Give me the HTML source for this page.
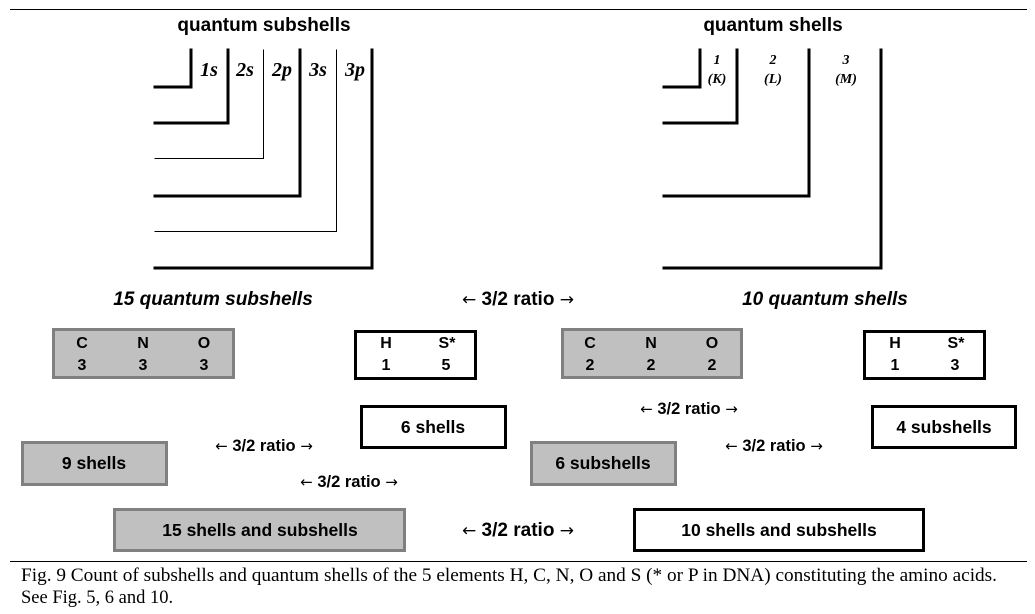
<!DOCTYPE html>
<html><head><meta charset="utf-8"><style>
html,body{margin:0;padding:0;background:#fff;}
svg{display:block;}
.b{font-family:"Liberation Sans",sans-serif;font-weight:bold;}
.s{font-family:"Liberation Serif",serif;}
.a{font-family:"DejaVu Sans",sans-serif;font-weight:normal;}
</style></head><body>
<svg width="1035" height="614" viewBox="0 0 1035 614" xmlns="http://www.w3.org/2000/svg">
<line x1="10" y1="9.5" x2="1027" y2="9.5" stroke="#000" stroke-width="1"/>
<line x1="10" y1="561.5" x2="1027" y2="561.5" stroke="#000" stroke-width="1"/>
<g class="b" font-size="19" text-anchor="middle">
<text x="264" y="31">quantum subshells</text>
<text x="773" y="31">quantum shells</text>
</g>
<g fill="none" stroke="#000" stroke-linecap="square">
<polyline points="155,87 191,87 191,50" stroke-width="3"/>
<polyline points="155,123 228,123 228,50" stroke-width="3"/>
<polyline points="155,158.5 263.5,158.5 263.5,50" stroke-width="1"/>
<polyline points="155,196 300,196 300,50" stroke-width="3"/>
<polyline points="155,231.5 336.5,231.5 336.5,50" stroke-width="1"/>
<polyline points="155,268 372,268 372,50" stroke-width="3"/>
<polyline points="664,87 700,87 700,50" stroke-width="3"/>
<polyline points="664,123 737,123 737,50" stroke-width="3"/>
<polyline points="664,196 809,196 809,50" stroke-width="3"/>
<polyline points="664,268 881,268 881,50" stroke-width="3"/>
</g>
<g class="s" font-weight="bold" font-style="italic" font-size="20" text-anchor="middle">
<text x="209" y="76">1s</text><text x="245" y="76">2s</text><text x="282" y="76">2p</text><text x="318" y="76">3s</text><text x="355" y="76">3p</text>
</g>
<g class="s" font-weight="bold" font-style="italic" font-size="14" text-anchor="middle">
<text x="717" y="64">1</text><text x="717" y="83">(K)</text>
<text x="773" y="64">2</text><text x="773" y="83">(L)</text>
<text x="846" y="64">3</text><text x="846" y="83">(M)</text>
</g>
<g class="b" font-style="italic" font-size="19" text-anchor="middle">
<text x="213" y="305">15 quantum subshells</text>
<text x="825" y="305">10 quantum shells</text>
</g>
<g class="b" font-size="19" text-anchor="middle">
<text x="518" y="305"><tspan class="a" font-size="17">←</tspan> 3/2 ratio <tspan class="a" font-size="17">→</tspan></text>
<text x="518" y="536"><tspan class="a" font-size="17">←</tspan> 3/2 ratio <tspan class="a" font-size="17">→</tspan></text>
</g>
<g class="b" font-size="16.5" text-anchor="middle">
<text x="264" y="451"><tspan class="a" font-size="15">←</tspan> 3/2 ratio <tspan class="a" font-size="15">→</tspan></text>
<text x="349" y="487"><tspan class="a" font-size="15">←</tspan> 3/2 ratio <tspan class="a" font-size="15">→</tspan></text>
<text x="689" y="414"><tspan class="a" font-size="15">←</tspan> 3/2 ratio <tspan class="a" font-size="15">→</tspan></text>
<text x="774" y="451"><tspan class="a" font-size="15">←</tspan> 3/2 ratio <tspan class="a" font-size="15">→</tspan></text>
</g>
<g stroke-width="3">
<rect x="53.5" y="329.5" width="180" height="48" fill="#c0c0c0" stroke="#808080"/>
<rect x="562.5" y="329.5" width="179" height="48" fill="#c0c0c0" stroke="#808080"/>
<rect x="22.5" y="442.5" width="144" height="42" fill="#c0c0c0" stroke="#808080"/>
<rect x="531.5" y="442.5" width="144" height="42" fill="#c0c0c0" stroke="#808080"/>
<rect x="114.5" y="509.5" width="290" height="41" fill="#c0c0c0" stroke="#808080"/>
<rect x="355.5" y="331.5" width="120" height="47" fill="#fff" stroke="#000"/>
<rect x="864.5" y="331.5" width="120" height="47" fill="#fff" stroke="#000"/>
<rect x="361.5" y="406.5" width="144" height="41" fill="#fff" stroke="#000"/>
<rect x="872.5" y="406.5" width="143" height="41" fill="#fff" stroke="#000"/>
<rect x="634.5" y="509.5" width="289" height="41" fill="#fff" stroke="#000"/>
</g>
<g class="b" font-size="16" text-anchor="middle">
<text x="82" y="348">C</text><text x="143" y="348">N</text><text x="204" y="348">O</text>
<text x="82" y="370">3</text><text x="143" y="370">3</text><text x="204" y="370">3</text>
<text x="590" y="348">C</text><text x="651" y="348">N</text><text x="712" y="348">O</text>
<text x="590" y="370">2</text><text x="651" y="370">2</text><text x="712" y="370">2</text>
<text x="386" y="348">H</text><text x="447" y="348">S*</text>
<text x="386" y="370">1</text><text x="446" y="370">5</text>
<text x="895" y="348">H</text><text x="956" y="348">S*</text>
<text x="895" y="370">1</text><text x="955" y="370">3</text>
</g>
<g class="b" font-size="17.5" text-anchor="middle">
<text x="433" y="433">6 shells</text>
<text x="944" y="433">4 subshells</text>
<text x="94" y="469">9 shells</text>
<text x="603" y="469">6 subshells</text>
<text x="260" y="536">15 shells and subshells</text>
<text x="779" y="536">10 shells and subshells</text>
</g>
<g class="s" font-size="18.5">
<text x="21" y="581" textLength="976" lengthAdjust="spacingAndGlyphs">Fig. 9 Count of subshells and quantum shells of the 5 elements H, C, N, O and S (* or P in DNA) constituting the amino acids.</text>
<text x="21" y="603">See Fig. 5, 6 and 10.</text>
</g>
</svg>
</body></html>
